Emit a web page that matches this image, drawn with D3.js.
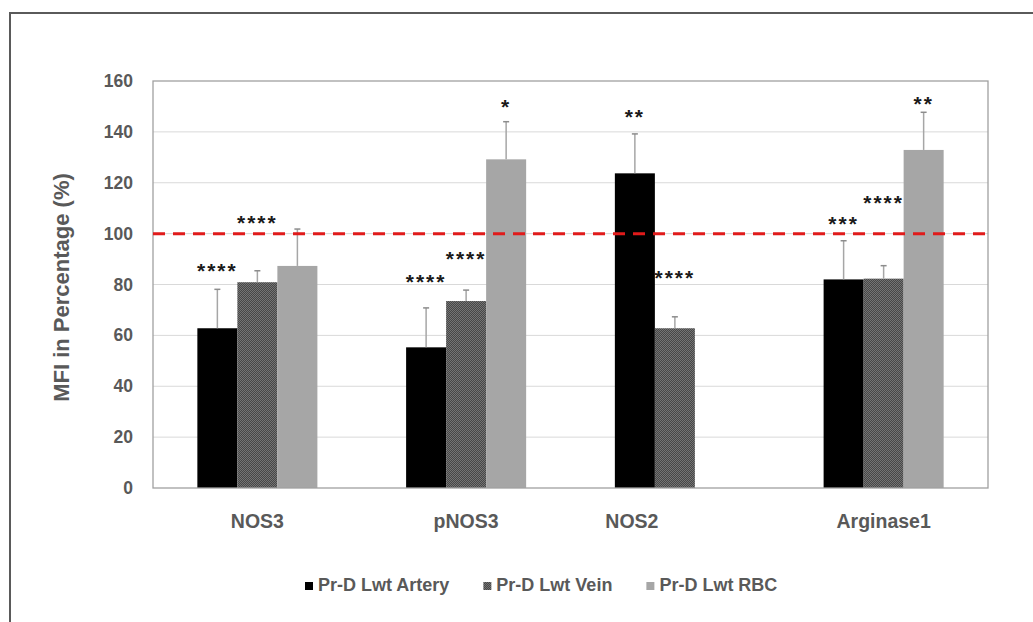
<!DOCTYPE html>
<html>
<head>
<meta charset="utf-8">
<script src="https://cdn.jsdelivr.net/npm/d3@7"></script>
<style>
  html, body { margin: 0; padding: 0; background: #fff; }
  svg { display: block; }
  text { font-family: "Liberation Sans", Arial, sans-serif; font-weight: bold; }
</style>
</head>
<body>
<svg id="chart" width="1033" height="622"></svg>
<script>
// ---- data ----
const categories = ["NOS3", "pNOS3", "NOS2", "Arginase1"];
const seriesNames = ["Pr-D Lwt Artery", "Pr-D Lwt Vein", "Pr-D Lwt RBC"];

const arteryMean = [62.8, 55.3, 123.7, 82.0];
const arteryErr  = [15.3, 15.5, 15.5, 15.2];
const veinMean   = [80.9, 73.5, 62.8, 82.3];
const veinErr    = [4.5, 4.3, 4.5, 5.1];
const rbcMean    = [87.3, 129.2, null, 132.9];
const rbcErr     = [14.5, 14.8, null, 14.8];

// significance marks and the value level each one is written at
const arterySig   = ["****", "****", "**", "***"];
const arterySigAt = [87.3, 82.9, 147.8, 105.7];
const veinSig     = ["****", "****", "****", "****"];
const veinSigAt   = [106.1, 92.0, 84.5, 114.0];
const rbcSig      = ["", "*", "", "**"];
const rbcSigAt    = [null, 151.7, null, 152.9];

const referenceLevel = 100;
const yTicks = [0, 20, 40, 60, 80, 100, 120, 140, 160];

// ---- layout ----
const svg = d3.select("#chart");
const plot = { left: 153, right: 988, top: 81, bottom: 488 };
const textColor = "#595959";

const x0 = d3.scaleBand()
  .domain(categories)
  .range([plot.left, plot.right])
  .paddingInner(0.425)
  .paddingOuter(0.2125);

const x1 = d3.scaleBand()
  .domain(seriesNames)
  .range([0, x0.bandwidth()]);

const y = d3.scaleLinear().domain([0, 160]).range([plot.bottom, plot.top]);

// outer frame
svg.append("rect")
  .attr("x", 10).attr("y", 13)
  .attr("width", 1100).attr("height", 700)
  .attr("fill", "none")
  .attr("stroke", "#5a5a5a")
  .attr("stroke-width", 2);

// patterned fill for the vein series
const defs = svg.append("defs");
const pat = defs.append("pattern")
  .attr("id", "veinPattern")
  .attr("patternUnits", "userSpaceOnUse")
  .attr("width", 2).attr("height", 2);
pat.append("rect").attr("width", 2).attr("height", 2).attr("fill", "#474747");
pat.append("rect").attr("width", 1).attr("height", 1).attr("fill", "#747474");
pat.append("rect").attr("x", 1).attr("y", 1).attr("width", 1).attr("height", 1).attr("fill", "#747474");

const fills = {
  "Pr-D Lwt Artery": "#000000",
  "Pr-D Lwt Vein": "url(#veinPattern)",
  "Pr-D Lwt RBC": "#a6a6a6"
};

// gridlines
svg.append("g")
  .selectAll("line")
  .data(yTicks.filter(t => t > 0 && t < 160))
  .join("line")
  .attr("x1", plot.left).attr("x2", plot.right)
  .attr("y1", d => y(d)).attr("y2", d => y(d))
  .attr("stroke", "#d9d9d9")
  .attr("stroke-width", 1);

// y axis labels
const yAxis = d3.axisLeft(y).tickValues(yTicks).tickSize(0).tickPadding(20);
const gy = svg.append("g")
  .attr("transform", `translate(${plot.left},0)`)
  .call(yAxis);
gy.select(".domain").remove();
gy.selectAll("text")
  .attr("fill", textColor)
  .style("font-size", "17.5px");

// y axis title
svg.append("text")
  .attr("transform", `translate(69,${(plot.top + plot.bottom) / 2 + 3}) rotate(-90)`)
  .attr("text-anchor", "middle")
  .attr("fill", textColor)
  .style("font-size", "22px")
  .text("MFI in Percentage (%)");

// rows of values per series
const series = [
  { name: seriesNames[0], mean: arteryMean, err: arteryErr, sig: arterySig, sigAt: arterySigAt },
  { name: seriesNames[1], mean: veinMean, err: veinErr, sig: veinSig, sigAt: veinSigAt },
  { name: seriesNames[2], mean: rbcMean, err: rbcErr, sig: rbcSig, sigAt: rbcSigAt }
];

const records = [];
series.forEach(s => {
  categories.forEach((c, i) => {
    if (s.mean[i] == null) return;
    records.push({ cat: c, series: s.name, v: s.mean[i], e: s.err[i], sig: s.sig[i], sigAt: s.sigAt[i] });
  });
});

const cx = d => x0(d.cat) + x1(d.series) + x1.bandwidth() / 2;

// bars
svg.append("g")
  .selectAll("rect")
  .data(records)
  .join("rect")
  .attr("x", d => x0(d.cat) + x1(d.series))
  .attr("y", d => y(d.v))
  .attr("width", x1.bandwidth())
  .attr("height", d => y(0) - y(d.v))
  .attr("fill", d => fills[d.series]);

// error bars (upper only)
const eb = svg.append("g");
eb.selectAll("line.stem")
  .data(records)
  .join("line")
  .attr("class", "stem")
  .attr("x1", cx).attr("x2", cx)
  .attr("y1", d => y(d.v)).attr("y2", d => y(d.v + d.e))
  .attr("stroke", "#a6a6a6")
  .attr("stroke-width", 1.5);
eb.selectAll("line.cap")
  .data(records)
  .join("line")
  .attr("class", "cap")
  .attr("x1", d => cx(d) - 3).attr("x2", d => cx(d) + 3)
  .attr("y1", d => y(d.v + d.e)).attr("y2", d => y(d.v + d.e))
  .attr("stroke", "#8c8c8c")
  .attr("stroke-width", 1.5);

// plot area outline
svg.append("rect")
  .attr("x", plot.left).attr("y", plot.top)
  .attr("width", plot.right - plot.left)
  .attr("height", plot.bottom - plot.top)
  .attr("fill", "none")
  .attr("stroke", "#a0a0a0")
  .attr("stroke-width", 1.3);

// 100% reference line
svg.append("line")
  .attr("x1", plot.left).attr("x2", plot.right)
  .attr("y1", y(referenceLevel)).attr("y2", y(referenceLevel))
  .attr("stroke", "#e01b1b")
  .attr("stroke-width", 3)
  .attr("stroke-dasharray", "12,8");

// significance asterisks
svg.append("g")
  .selectAll("text")
  .data(records.filter(d => d.sig))
  .join("text")
  .attr("x", cx)
  .attr("y", d => y(d.sigAt))
  .attr("dy", "0.57em")
  .attr("text-anchor", "middle")
  .attr("fill", "#1a1a1a")
  .style("font-size", "21px")
  .style("letter-spacing", "2px")
  .text(d => d.sig);

// x axis labels
const labelNudge = { "NOS2": -43 };
svg.append("g")
  .selectAll("text")
  .data(categories)
  .join("text")
  .attr("x", d => x0(d) + x0.bandwidth() / 2 + (labelNudge[d] || 0))
  .attr("y", 528)
  .attr("text-anchor", "middle")
  .attr("fill", textColor)
  .style("font-size", "19.5px")
  .text(d => d);

// legend
const legend = svg.append("g");
let lx = 305;
seriesNames.forEach(name => {
  legend.append("rect")
    .attr("x", lx).attr("y", 582)
    .attr("width", 8).attr("height", 8)
    .attr("fill", fills[name]);
  const t = legend.append("text")
    .attr("x", lx + 13).attr("y", 591)
    .attr("fill", textColor)
    .style("font-size", "18px")
    .text(name);
  lx += 13 + t.node().getComputedTextLength() + 34;
});
</script>
</body>
</html>
